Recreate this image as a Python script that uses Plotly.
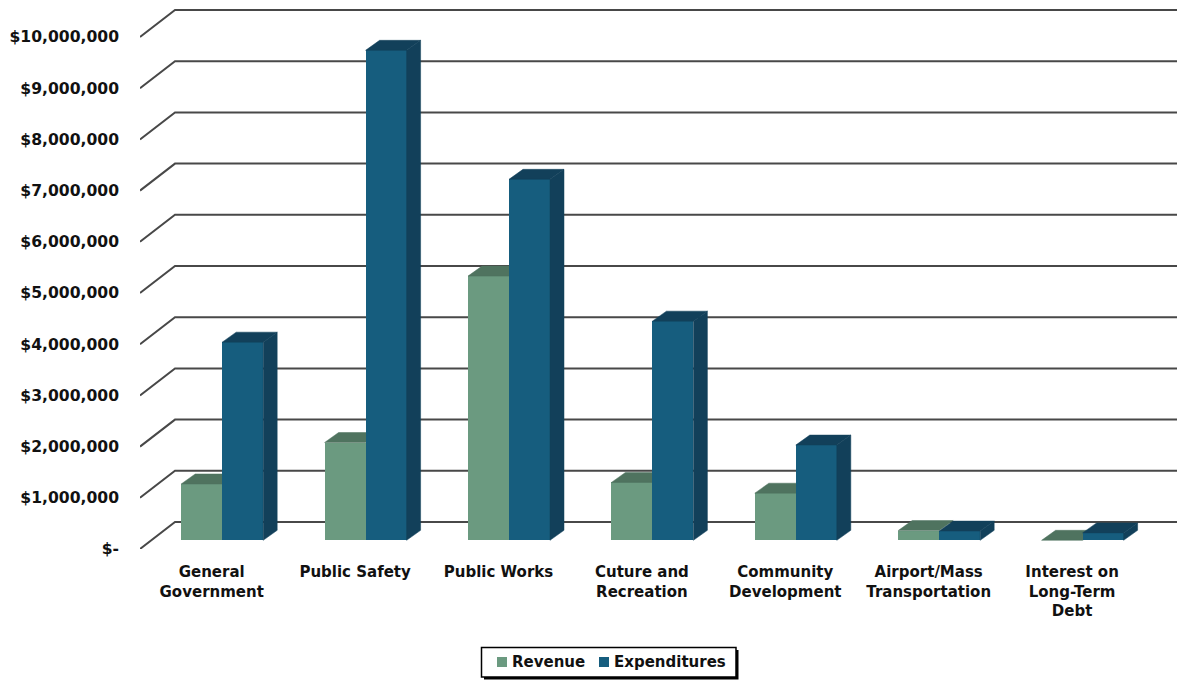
import plotly.graph_objects as go

categories = ["General<br>Government", "Public Safety", "Public Works", "Cuture and<br>Recreation",
              "Community<br>Development", "Airport/Mass<br>Transportation", "Interest on<br>Long-Term<br>Debt"]
revenue = [1100000, 1910000, 5160000, 1130000, 920000, 190000, 0]
expenditures = [3870000, 9570000, 7050000, 4280000, 1860000, 180000, 145000]
tick_values = [i * 1000000 for i in range(11)]
tick_labels = ["$-"] + [f"${i},000,000" for i in range(1, 11)]

FONT = "DejaVu Sans"
GREEN, GREEN_DK = "#6B9A80", "#4F735F"
BLUE, BLUE_DK = "#165D7E", "#12405A"
GRID = "#484848"

PX_CAT = 143.4        # pixels per category
PX_VAL = 51.2 / 1e6   # pixels per dollar
W, H = 1177, 680
L, BOTTOM = 140, 549

GRID_DX, GRID_DY = 35 / PX_CAT, 27 / PX_VAL       # wall depth
FRONT_DX, FRONT_DY = 10.5 / PX_CAT, 8.7 / PX_VAL  # bar front plane inside the floor
BAR_DX, BAR_DY = 14 / PX_CAT, 10 / PX_VAL         # bar depth
BAR_W = 41 / PX_CAT

xr = [-0.5, -0.5 + (W - L) / PX_CAT]
yr = [0, BOTTOM / PX_VAL]
n = len(categories)


def px(x):
    return (x - L) / (W - L)


def py(y):
    return (BOTTOM - y) / BOTTOM


fig = go.Figure()


def faces(xs, vals, color_top, color_side, axes, side=True):
    for cx, v in zip(xs, vals):
        x0, x1 = cx - BAR_W / 2, cx + BAR_W / 2
        base, top = FRONT_DY, FRONT_DY + v
        fig.add_trace(go.Scatter(
            x=[x0, x1, x1 + BAR_DX, x0 + BAR_DX, x0], y=[top, top, top + BAR_DY, top + BAR_DY, top],
            mode="lines", line=dict(width=0.5, color=color_top), fill="toself", fillcolor=color_top,
            showlegend=False, hoverinfo="skip", **axes))
        if side:
            fig.add_trace(go.Scatter(
                x=[x1, x1 + BAR_DX, x1 + BAR_DX, x1, x1],
                y=[base, base + BAR_DY, top + BAR_DY, top, base],
                mode="lines", line=dict(width=0.5, color=color_side), fill="toself", fillcolor=color_side,
                showlegend=False, hoverinfo="skip", **axes))


rev_x = [i + FRONT_DX - BAR_W / 2 for i in range(n)]
exp_x = [i + FRONT_DX + BAR_W / 2 for i in range(n)]

fig.add_trace(go.Bar(name="Revenue", x=rev_x, y=revenue, base=[FRONT_DY] * n, width=BAR_W,
                     marker=dict(color=GREEN, line=dict(width=0))))
faces(rev_x, revenue, GREEN_DK, GREEN_DK, dict(xaxis="x", yaxis="y"), side=False)
fig.add_trace(go.Bar(name="Expenditures", x=exp_x, y=expenditures, base=[FRONT_DY] * n, width=BAR_W,
                     marker=dict(color=BLUE, line=dict(width=0)), xaxis="x2", yaxis="y2"))
faces(exp_x, expenditures, BLUE_DK, BLUE_DK, dict(xaxis="x2", yaxis="y2"))

shapes = []
for v in tick_values:
    shapes.append(dict(type="path", xref="x", yref="y", layer="below",
                       path=f"M {xr[0]} {v} L {xr[0] + GRID_DX} {v + GRID_DY} L {xr[1]} {v + GRID_DY}",
                       line=dict(color=GRID, width=2)))


def rect(x0, x1, y0, y1, fill, line=None):
    return dict(type="rect", xref="paper", yref="paper", layer="above",
                x0=px(x0), x1=px(x1), y0=py(y1), y1=py(y0), fillcolor=fill,
                line=dict(color=line or fill, width=1.5 if line else 0))


# legend: drop shadow, box, swatches
shapes += [rect(484, 738.5, 650, 679.5, "black"),
           rect(481.5, 736, 647.5, 677, "white", "black"),
           rect(497, 507, 657, 667, GREEN),
           rect(599, 609, 657, 667, BLUE)]

annotations = [dict(text=f"<b>{label}</b>", xref="paper", yref="paper", x=px(x), y=py(661.5),
                    xanchor="left", yanchor="middle", showarrow=False, borderpad=0,
                    font=dict(family=FONT, size=15, color="#111111"))
               for label, x in (("Revenue", 511), ("Expenditures", 613))]

fig.update_layout(
    width=W, height=H, margin=dict(l=L, r=0, t=0, b=H - BOTTOM),
    paper_bgcolor="white", plot_bgcolor="white", barmode="overlay", bargap=0,
    font=dict(family=FONT, size=15, color="#111111"),
    shapes=shapes, annotations=annotations,
    showlegend=False,
    xaxis=dict(range=xr, tickmode="array", tickvals=list(range(n)), ticktext=[f"<b>{c}</b>".replace("<br>", "</b><br><b>") for c in categories],
               showgrid=False, zeroline=False, showline=False, ticks="", tickangle=0,
               ticklabelstandoff=12, fixedrange=True, tickfont=dict(family=FONT, size=15, weight="bold")),
    yaxis=dict(range=yr, tickmode="array", tickvals=tick_values, ticktext=tick_labels,
               showgrid=False, zeroline=False, showline=False, ticks="",
               ticklabelstandoff=20, fixedrange=True, tickfont=dict(family=FONT, size=15.6, weight="bold")),
    xaxis2=dict(range=xr, overlaying="x", visible=False, fixedrange=True),
    yaxis2=dict(range=yr, overlaying="y", visible=False, fixedrange=True),
)

fig.write_html("out.html", config={"displayModeBar": False},
               post_script="document.body.style.margin='0';document.body.style.overflow='hidden';")
